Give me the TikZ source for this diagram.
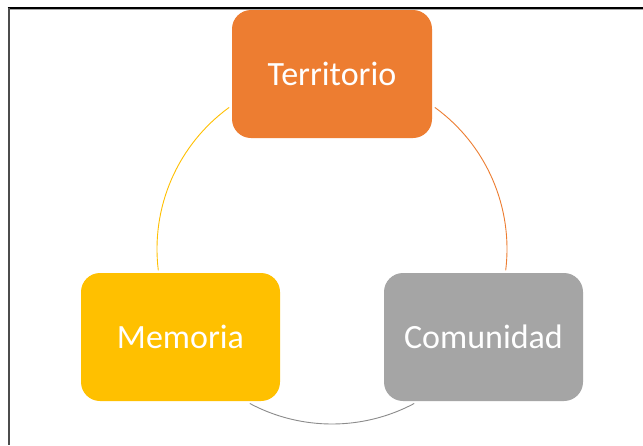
\documentclass[tikz,border=0pt]{standalone}
\usepackage{fontspec}
\setmainfont{Carlito}
\definecolor{orangeT}{HTML}{ED7D31}
\definecolor{yellowM}{HTML}{FFC000}
\definecolor{grayC}{HTML}{A5A5A5}
\begin{document}
\begin{tikzpicture}[x=1pt,y=-1pt,
  box/.style={rounded corners=19pt, minimum width=200pt, minimum height=128pt,
    inner sep=0pt, text=white, font=\fontsize{34}{40}\selectfont},
  ring/.style={line width=0.9pt}]
\useasboundingbox (0,0) rectangle (643,445);
\fill[white] (0,0) rectangle (643,445);
% frame
\draw[line width=0.8pt, black!35] (8.5,9.8) -- (643,9.8);
\draw[line width=1.8pt, black] (7.6,8.3) -- (643,8.3);
\draw[line width=2pt, black!70] (8.5,8.3) -- (8.5,445);
% circle centre
\coordinate (ctr) at (332,249);
% arcs
\draw[ring, yellowM] ([shift={(126:175pt)}]ctr) arc[start angle=126, end angle=187, radius=175pt];
\draw[ring, orangeT] ([shift={(54:175pt)}]ctr) arc[start angle=54, end angle=-7, radius=175pt];
\draw[ring, grayC!85!black] ([shift={(-62:175pt)}]ctr) arc[start angle=-62, end angle=-118, radius=175pt];
% nodes
\node[box, fill=orangeT] (terr) at (332,74) {Territorio};
\node[box, fill=yellowM, minimum width=199pt] (mem) at (180.5,337) {Memoria};
\node[box, fill=grayC, minimum width=199pt] (com) at (483.5,337) {Comunidad};
\end{tikzpicture}
\end{document}
